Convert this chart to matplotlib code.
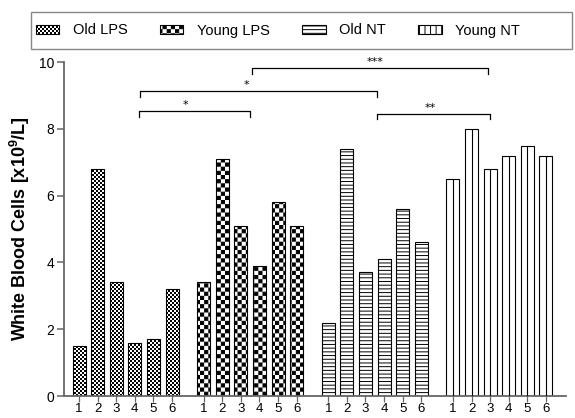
import warnings
warnings.filterwarnings('ignore')
import numpy as np
import matplotlib
matplotlib.use('Agg')
import matplotlib.pyplot as plt
from matplotlib import hatch as mhatch
from matplotlib.path import Path
from matplotlib.patches import Rectangle, Patch

# ---------------- data ----------------
groups = ['Old LPS', 'Young LPS', 'Old NT', 'Young NT']
subjects = ['1', '2', '3', '4', '5', '6']
old_lps = [1.5, 6.8, 3.4, 1.6, 1.7, 3.2]
young_lps = [3.4, 7.1, 5.1, 3.9, 5.8, 5.1]
old_nt = [2.2, 7.4, 3.7, 4.1, 5.6, 4.6]
young_nt = [6.5, 8.0, 6.8, 7.2, 7.5, 7.2]
yticks = [0, 2, 4, 6, 8, 10]
ylabel_main = 'White Blood Cells [x'
ylabel_tail = '/L]'
# significance brackets: (x start, x end, y level, label, label x)  in axis data units
brackets = [
    (3.2, 9.2, 8.52, '*', 5.7),
    (3.3, 16.0, 9.12, '*', 9.0),
    (9.28, 21.97, 9.81, '***', 15.9),
    (16.04, 22.1, 8.45, '**', 18.9),
]

# ---------------- custom hatches ----------------
HLW = 0.7
plt.rcParams['hatch.linewidth'] = HLW
plt.rcParams['hatch.color'] = 'black'


class CheckerHatch(mhatch.HatchPatternBase):
    def __init__(self, hatch, density):
        n = hatch.count('c')
        self.n = n
        self.squares = [(i, j) for i in range(n) for j in range(n) if (i + j) % 2 == 0]
        self.num_vertices = 5 * len(self.squares) if n else 0

    def set_vertices_and_codes(self, vertices, codes):
        s = 1.0 / self.n
        e = HLW * 100 / 72 / 2 / 100
        for k, (i, j) in enumerate(self.squares):
            x0, y0 = i * s + e, j * s + e
            x1, y1 = (i + 1) * s - e, (j + 1) * s - e
            vertices[5 * k:5 * k + 5] = [(x0, y0), (x1, y0), (x1, y1), (x0, y1), (x0, y0)]
            codes[5 * k:5 * k + 5] = [Path.MOVETO, Path.LINETO, Path.LINETO,
                                      Path.LINETO, Path.CLOSEPOLY]


class HLineHatch(mhatch.HatchPatternBase):
    def __init__(self, hatch, density):
        self.n = hatch.count('h')
        self.num_vertices = 2 * (self.n + 1) if self.n else 0

    def set_vertices_and_codes(self, vertices, codes):
        steps = np.linspace(0.0, 1.0, self.n + 1)
        vertices[0::2, 0] = 0.0
        vertices[0::2, 1] = steps
        vertices[1::2, 0] = 1.0
        vertices[1::2, 1] = steps
        codes[0::2] = Path.MOVETO
        codes[1::2] = Path.LINETO


mhatch._hatch_types.append(CheckerHatch)
mhatch._hatch_types.append(HLineHatch)

hatches = ['c' * 50, 'c' * 24, 'h' * 27, None]
legend_hatches = ['c' * 50, 'c' * 24, 'h' * 27, '|||']

# ---------------- figure ----------------
plt.rcParams['font.family'] = ['Liberation Sans', 'DejaVu Sans']
plt.rcParams['mathtext.fontset'] = 'custom'
plt.rcParams['mathtext.rm'] = 'Liberation Sans'
plt.rcParams['mathtext.bf'] = 'Liberation Sans:bold'

fig = plt.figure(figsize=(5.75, 4.18), dpi=100)
ax = fig.add_axes([64 / 575, 22 / 418, (566 - 64) / 575, (396 - 62) / 418])

series = [old_lps, young_lps, old_nt, young_nt]
group_step = 6.7
bar_w = 0.7
all_pos = []
all_labels = []
for g, vals in enumerate(series):
    pos = g * group_step + np.arange(len(vals))
    ax.bar(pos, vals, width=bar_w, color='white', edgecolor='black',
           linewidth=0.8, hatch=hatches[g], zorder=2)
    if g == 3:
        ax.vlines(pos, 0, vals, colors='black', linewidth=0.8, zorder=3)
    all_pos.extend(pos)
    all_labels.extend(subjects)

ax.set_xlim(-0.81, 26.18)
ax.set_ylim(0, 10)
ax.set_yticks(yticks)
ax.set_xticks(all_pos)
ax.set_xticklabels(all_labels)
for s in ['top', 'right']:
    ax.spines[s].set_visible(False)
for s in ['left', 'bottom']:
    ax.spines[s].set_color('#666666')
    ax.spines[s].set_linewidth(1.3)
ax.tick_params(axis='y', direction='out', length=5, width=1.1, color='#666666',
               labelsize=10, pad=2)
ax.tick_params(axis='x', direction='out', length=4, width=0.9, color='#666666',
               labelsize=9.5, pad=1)

ax.set_ylabel(ylabel_main + r'$\mathbf{10^9}$' + ylabel_tail,
              fontsize=13, fontweight='bold')
ax.yaxis.set_label_coords(-0.063, 0.5)

for x0, x1, y, lab, lx in brackets:
    d = 0.16
    ax.plot([x0, x0, x1, x1], [y - d, y, y, y - d], color='black',
            linewidth=0.9, clip_on=False, zorder=4)
    ax.text(lx, y + 0.03, lab, ha='center', va='bottom', fontsize=8,
            family='DejaVu Sans', clip_on=False)

# legend
handles = [Patch(facecolor='white', edgecolor='black', linewidth=0.8,
                 hatch=legend_hatches[i]) for i in range(4)]
fig.legend(handles, groups, loc='center left',
           bbox_to_anchor=(36 / 575, (418 - 30.5) / 418), ncol=4,
           frameon=False, fontsize=10.5, borderpad=0, borderaxespad=0,
           handlelength=1.6, handleheight=0.55, handletextpad=0.95,
           columnspacing=2.2)
fig.patches.append(Rectangle((31 / 575, (418 - 49) / 418), (572 - 31) / 575,
                             (49 - 12) / 418, transform=fig.transFigure,
                             fill=False, edgecolor='#888888', linewidth=1.0))

fig.savefig('out.png', dpi=100)
